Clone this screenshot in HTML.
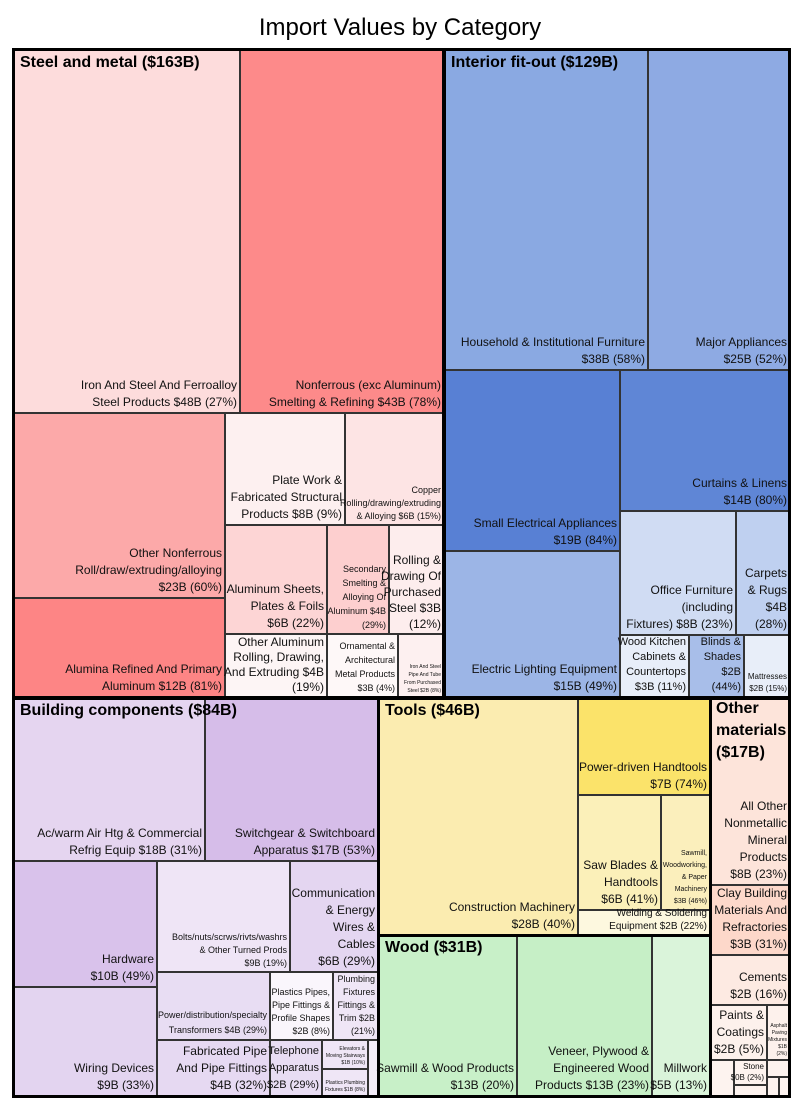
<!DOCTYPE html>
<html><head><meta charset="utf-8"><style>
body{margin:0;width:800px;height:1100px;background:#fff;font-family:"Liberation Sans",sans-serif;position:relative;overflow:hidden}
.t{position:absolute;top:14px;left:0;width:800px;text-align:center;font-size:24px;color:#000}
.r{position:absolute;box-sizing:border-box;border:1px solid #333;display:flex;flex-direction:column;justify-content:flex-end;align-items:flex-end;text-align:right;padding:0 2px 1px 1px;font-size:12px;line-height:17px;color:#111;white-space:nowrap}
.s{font-size:7px;line-height:9px}
.m{font-size:9px;line-height:12px}
.g{position:absolute;box-sizing:border-box;border:3px solid #000}
.h{position:absolute;font-size:16px;font-weight:bold;line-height:22px;color:#000}
</style></head><body>
<div class="t">Import Values by Category</div>

<!-- Steel -->
<div class="r" style="left:13px;top:50px;width:227px;height:363px;background:#fddcdc">Iron And Steel And Ferroalloy<br>Steel Products $48B (27%)</div>
<div class="r" style="left:240px;top:50px;width:204px;height:363px;background:#fd8a8a">Nonferrous (exc Aluminum)<br>Smelting &amp; Refining $43B (78%)</div>
<div class="r" style="left:13px;top:413px;width:212px;height:185px;background:#fca9a9">Other Nonferrous<br>Roll/draw/extruding/alloying<br>$23B (60%)</div>
<div class="r" style="left:13px;top:598px;width:212px;height:99px;background:#fd8585">Alumina Refined And Primary<br>Aluminum $12B (81%)</div>
<div class="r" style="left:225px;top:413px;width:120px;height:112px;background:#fdf0f0">Plate Work &amp;<br>Fabricated Structural<br>Products $8B (9%)</div>
<div class="r m" style="left:345px;top:413px;width:99px;height:112px;background:#fde4e4;line-height:13px">Copper<br>Rolling/drawing/extruding<br>&amp; Alloying $6B (15%)</div>
<div class="r" style="left:225px;top:525px;width:102px;height:109px;background:#fdd5d5">Aluminum Sheets,<br>Plates &amp; Foils<br>$6B (22%)</div>
<div class="r m" style="left:327px;top:525px;width:62px;height:109px;background:#fdcfcf;line-height:14px">Secondary<br>Smelting &amp;<br>Alloying Of<br>Aluminum $4B<br>(29%)</div>
<div class="r" style="left:389px;top:525px;width:55px;height:109px;background:#fdeded;font-size:12px;line-height:16px">Rolling &amp;<br>Drawing Of<br>Purchased<br>Steel $3B<br>(12%)</div>
<div class="r" style="left:225px;top:634px;width:102px;height:63px;background:#fdf5f5;line-height:15px">Other Aluminum<br>Rolling, Drawing,<br>And Extruding $4B<br>(19%)</div>
<div class="r m" style="left:327px;top:634px;width:71px;height:63px;background:#fef8f8;line-height:14px">Ornamental &amp;<br>Architectural<br>Metal Products<br>$3B (4%)</div>
<div class="r s" style="left:398px;top:634px;width:46px;height:63px;background:#fdf0f0;font-size:5px;line-height:8px">Iron And Steel<br>Pipe And Tube<br>From Purchased<br>Steel $2B (8%)</div>

<!-- Interior -->
<div class="r" style="left:444px;top:50px;width:204px;height:320px;background:#8aa9e2">Household &amp; Institutional Furniture<br>$38B (58%)</div>
<div class="r" style="left:648px;top:50px;width:142px;height:320px;background:#8eaae3">Major Appliances<br>$25B (52%)</div>
<div class="r" style="left:444px;top:370px;width:176px;height:181px;background:#5880d4">Small Electrical Appliances<br>$19B (84%)</div>
<div class="r" style="left:444px;top:551px;width:176px;height:146px;background:#9cb5e6">Electric Lighting Equipment<br>$15B (49%)</div>
<div class="r" style="left:620px;top:370px;width:170px;height:141px;background:#5f86d6">Curtains &amp; Linens<br>$14B (80%)</div>
<div class="r" style="left:620px;top:511px;width:116px;height:124px;background:#d0dcf3">Office Furniture<br>(including<br>Fixtures) $8B (23%)</div>
<div class="r" style="left:736px;top:511px;width:54px;height:124px;background:#bfd0f0">Carpets<br>&amp; Rugs<br>$4B<br>(28%)</div>
<div class="r" style="left:620px;top:635px;width:69px;height:62px;background:#e8eef9;font-size:11px;line-height:15px">Wood Kitchen<br>Cabinets &amp;<br>Countertops<br>$3B (11%)</div>
<div class="r" style="left:689px;top:635px;width:55px;height:62px;background:#a8bee9;font-size:11px;line-height:15px">Blinds &amp;<br>Shades<br>$2B<br>(44%)</div>
<div class="r s" style="left:744px;top:635px;width:46px;height:62px;background:#e8eef9;font-size:8px;line-height:12px">Mattresses<br>$2B (15%)</div>

<!-- Building components -->
<div class="r" style="left:13px;top:697px;width:192px;height:164px;background:#e5d5f0">Ac/warm Air Htg &amp; Commercial<br>Refrig Equip $18B (31%)</div>
<div class="r" style="left:205px;top:697px;width:173px;height:164px;background:#d6bde9">Switchgear &amp; Switchboard<br>Apparatus $17B (53%)</div>
<div class="r" style="left:13px;top:861px;width:144px;height:126px;background:#d9c2eb">Hardware<br>$10B (49%)</div>
<div class="r" style="left:13px;top:987px;width:144px;height:109px;background:#e3d4f0">Wiring Devices<br>$9B (33%)</div>
<div class="r m" style="left:157px;top:861px;width:133px;height:111px;background:#efe5f6;line-height:13px">Bolts/nuts/scrws/rivts/washrs<br>&amp; Other Turned Prods<br>$9B (19%)</div>
<div class="r" style="left:290px;top:861px;width:88px;height:111px;background:#e4d6f1">Communication<br>&amp; Energy<br>Wires &amp;<br>Cables<br>$6B (29%)</div>
<div class="r m" style="left:157px;top:972px;width:113px;height:68px;background:#e8ddf3;line-height:15px">Power/distribution/specialty<br>Transformers $4B (29%)</div>
<div class="r m" style="left:270px;top:972px;width:63px;height:68px;background:#faf6fc;line-height:13px">Plastics Pipes,<br>Pipe Fittings &amp;<br>Profile Shapes<br>$2B (8%)</div>
<div class="r m" style="left:333px;top:972px;width:45px;height:68px;background:#efe6f6;line-height:13px">Plumbing<br>Fixtures<br>Fittings &amp;<br>Trim $2B<br>(21%)</div>
<div class="r" style="left:157px;top:1040px;width:113px;height:56px;background:#e6d9f2">Fabricated Pipe<br>And Pipe Fittings<br>$4B (32%)</div>
<div class="r" style="left:270px;top:1040px;width:52px;height:56px;background:#e8ddf3;font-size:11px">Telephone<br>Apparatus<br>$2B (29%)</div>
<div class="r s" style="left:322px;top:1040px;width:46px;height:29px;background:#efe6f6;font-size:5px;line-height:7px">Elevators &amp;<br>Moving Stairways<br>$1B (10%)</div>
<div class="r s" style="left:322px;top:1069px;width:46px;height:27px;background:#efe6f6;font-size:5px;line-height:7px">Plastics Plumbing<br>Fixtures $1B (8%)</div>
<div class="r" style="left:368px;top:1040px;width:10px;height:56px;background:#f3ecf8"></div>

<!-- Tools -->
<div class="r" style="left:378px;top:697px;width:200px;height:238px;background:#fbecb0">Construction Machinery<br>$28B (40%)</div>
<div class="r" style="left:578px;top:697px;width:132px;height:98px;background:#fbe36a">Power-driven Handtools<br>$7B (74%)</div>
<div class="r" style="left:578px;top:795px;width:83px;height:115px;background:#fbf0b9">Saw Blades &amp;<br>Handtools<br>$6B (41%)</div>
<div class="r s" style="left:661px;top:795px;width:49px;height:115px;background:#fbefbc;font-size:7px;line-height:12px">Sawmill,<br>Woodworking,<br>&amp; Paper<br>Machinery<br>$3B (46%)</div>
<div class="r m" style="left:578px;top:910px;width:132px;height:25px;background:#fdf8df;line-height:13px;font-size:10px">Welding &amp; Soldering<br>Equipment $2B (22%)</div>

<!-- Wood -->
<div class="r" style="left:378px;top:935px;width:139px;height:161px;background:#c8f0c8">Sawmill &amp; Wood Products<br>$13B (20%)</div>
<div class="r" style="left:517px;top:935px;width:135px;height:161px;background:#c6efc6">Veneer, Plywood &amp;<br>Engineered Wood<br>Products $13B (23%)</div>
<div class="r" style="left:652px;top:935px;width:58px;height:161px;background:#daf4da">Millwork<br>$5B (13%)</div>

<!-- Other materials -->
<div class="r" style="left:710px;top:697px;width:80px;height:188px;background:#fde4da">All Other<br>Nonmetallic<br>Mineral<br>Products<br>$8B (23%)</div>
<div class="r" style="left:710px;top:885px;width:80px;height:70px;background:#fdd8ca">Clay Building<br>Materials And<br>Refractories<br>$3B (31%)</div>
<div class="r" style="left:710px;top:955px;width:80px;height:50px;background:#fdeae2">Cements<br>$2B (16%)</div>
<div class="r" style="left:710px;top:1005px;width:57px;height:55px;background:#fdf1ec">Paints &amp;<br>Coatings<br>$2B (5%)</div>
<div class="r s" style="left:767px;top:1005px;width:23px;height:55px;background:#fdf1ec;font-size:5px;line-height:7px">Asphalt<br>Paving<br>Mixtures<br>$1B<br>(2%)</div>
<div class="r s" style="left:710px;top:1060px;width:24px;height:36px;background:#fdf3ef"></div>
<div class="r s" style="left:734px;top:1060px;width:33px;height:25px;background:#fdf3ef;font-size:8px;line-height:11px">Stone<br>$0B (2%)</div>
<div class="r" style="left:734px;top:1085px;width:33px;height:11px;background:#fdf3ef"></div>
<div class="r" style="left:767px;top:1060px;width:23px;height:17px;background:#fdf3ef"></div>
<div class="r" style="left:767px;top:1077px;width:12px;height:19px;background:#fdf3ef"></div>
<div class="r" style="left:779px;top:1077px;width:11px;height:19px;background:#fdf3ef"></div>

<!-- group borders -->
<div class="g" style="left:12px;top:48px;width:433px;height:651px"></div>
<div class="g" style="left:443px;top:48px;width:348px;height:651px"></div>
<div class="g" style="left:12px;top:697px;width:368px;height:401px"></div>
<div class="g" style="left:377px;top:697px;width:335px;height:240px"></div>
<div class="g" style="left:377px;top:934px;width:335px;height:164px"></div>
<div class="g" style="left:709px;top:697px;width:82px;height:401px"></div>

<div class="h" style="left:20px;top:52px">Steel and metal ($163B)</div>
<div class="h" style="left:451px;top:52px">Interior fit-out ($129B)</div>
<div class="h" style="left:20px;top:700px">Building components ($84B)</div>
<div class="h" style="left:385px;top:700px">Tools ($46B)</div>
<div class="h" style="left:385px;top:937px">Wood ($31B)</div>
<div class="h" style="left:716px;top:698px">Other<br>materials<br>($17B)</div>
</body></html>
